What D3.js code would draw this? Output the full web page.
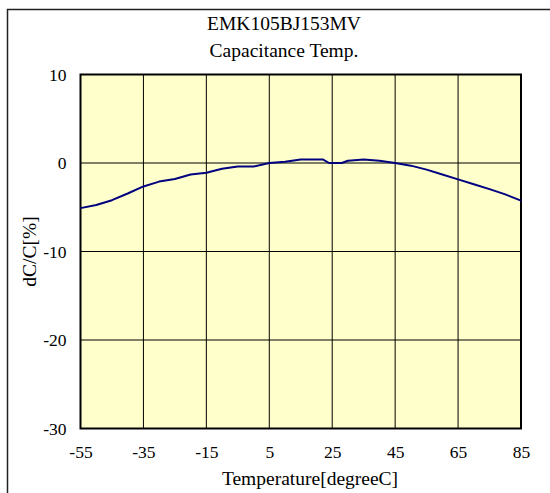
<!DOCTYPE html>
<html>
<head>
<meta charset="utf-8">
<script src="https://cdn.jsdelivr.net/npm/d3@7"></script>
<style>
  html, body { margin: 0; padding: 0; background: #fff; }
  svg { display: block; }
  text { font-family: "Liberation Serif", "Times New Roman", serif; fill: #000; }
</style>
</head>
<body>
<svg id="chart" width="550" height="493"></svg>
<script>
const titleLines = ["EMK105BJ153MV", "Capacitance Temp."];
const xLabel = "Temperature[degreeC]";
const yLabel = "dC/C[%]";
const xTicks = [-55, -35, -15, 5, 25, 45, 65, 85];
const yTicks = [-30, -20, -10, 0, 10];
const temps = [-55, -50, -45, -40, -35, -30, -25, -20, -15, -10, -5, 0, 5, 10, 15, 22, 24, 28, 30, 35, 40, 45, 50, 55, 60, 65, 70, 75, 80, 85];
const dcc   = [-5.1, -4.75, -4.2, -3.45, -2.65, -2.1, -1.8, -1.3, -1.1, -0.65, -0.4, -0.4, 0, 0.15, 0.4, 0.4, 0, 0, 0.25, 0.4, 0.25, 0, -0.3, -0.75, -1.3, -1.85, -2.4, -2.95, -3.55, -4.25];

const svg = d3.select("#chart");
const x = d3.scaleLinear().domain([-55, 85]).range([80.5, 521]);
const y = d3.scaleLinear().domain([-30, 10]).range([428.5, 74.5]);
const fmt = d => String(d);

// outer frame
svg.append("rect").attr("x", 7.5).attr("y", 9.5).attr("width", 560).attr("height", 500)
  .attr("fill", "none").attr("stroke", "#222").attr("stroke-width", 1.5);

// plot background
svg.append("rect").attr("x", x(-55)).attr("y", y(10))
  .attr("width", x(85) - x(-55)).attr("height", y(-30) - y(10))
  .attr("fill", "#FFFFCC");

// grid
svg.append("g").selectAll("line").data(xTicks.slice(1, -1)).join("line")
  .attr("x1", d => x(d)).attr("x2", d => x(d))
  .attr("y1", y(10)).attr("y2", y(-30))
  .attr("stroke", "#000").attr("stroke-width", 1);
svg.append("g").selectAll("line").data(yTicks.slice(1, -1)).join("line")
  .attr("x1", x(-55)).attr("x2", x(85))
  .attr("y1", d => y(d)).attr("y2", d => y(d))
  .attr("stroke", "#000").attr("stroke-width", 1);

// plot frame
svg.append("rect").attr("x", x(-55)).attr("y", y(10))
  .attr("width", x(85) - x(-55)).attr("height", y(-30) - y(10))
  .attr("fill", "none").attr("stroke", "#000").attr("stroke-width", 2);

// axes (labels only)
const xAxis = d3.axisBottom(x).tickValues(xTicks).tickSize(0).tickPadding(0).tickFormat(fmt);
const gx = svg.append("g").attr("transform", `translate(0,${y(-30) + 17})`).call(xAxis);
gx.select(".domain").remove();
gx.selectAll("text").attr("font-size", 17.5).attr("font-family", "Liberation Serif").attr("fill", "#000").attr("dy", "0.71em");

const yAxis = d3.axisLeft(y).tickValues(yTicks).tickSize(0).tickPadding(0).tickFormat(fmt);
const gy = svg.append("g").attr("transform", `translate(${x(-55) - 14},0)`).call(yAxis);
gy.select(".domain").remove();
gy.selectAll("text").attr("font-size", 17.5).attr("font-family", "Liberation Serif").attr("fill", "#000");

// line
const line = d3.line().x((d, i) => x(temps[i])).y(d => y(d));
svg.append("path").datum(dcc).attr("d", line)
  .attr("fill", "none").attr("stroke", "#000080").attr("stroke-width", 2)
  .attr("stroke-linejoin", "round");

// titles
svg.selectAll("text.title").data(titleLines).join("text").attr("class", "title")
  .attr("x", 284).attr("y", (d, i) => 30 + i * 27)
  .attr("text-anchor", "middle").attr("font-size", 19.5).text(d => d);

svg.append("text").attr("x", 310).attr("y", 485).attr("text-anchor", "middle")
  .attr("font-size", 19.5).text(xLabel);

svg.append("text").attr("transform", `translate(36,${(y(10) + y(-30)) / 2}) rotate(-90)`)
  .attr("text-anchor", "middle").attr("font-size", 19.5).text(yLabel);
</script>
</body>
</html>
